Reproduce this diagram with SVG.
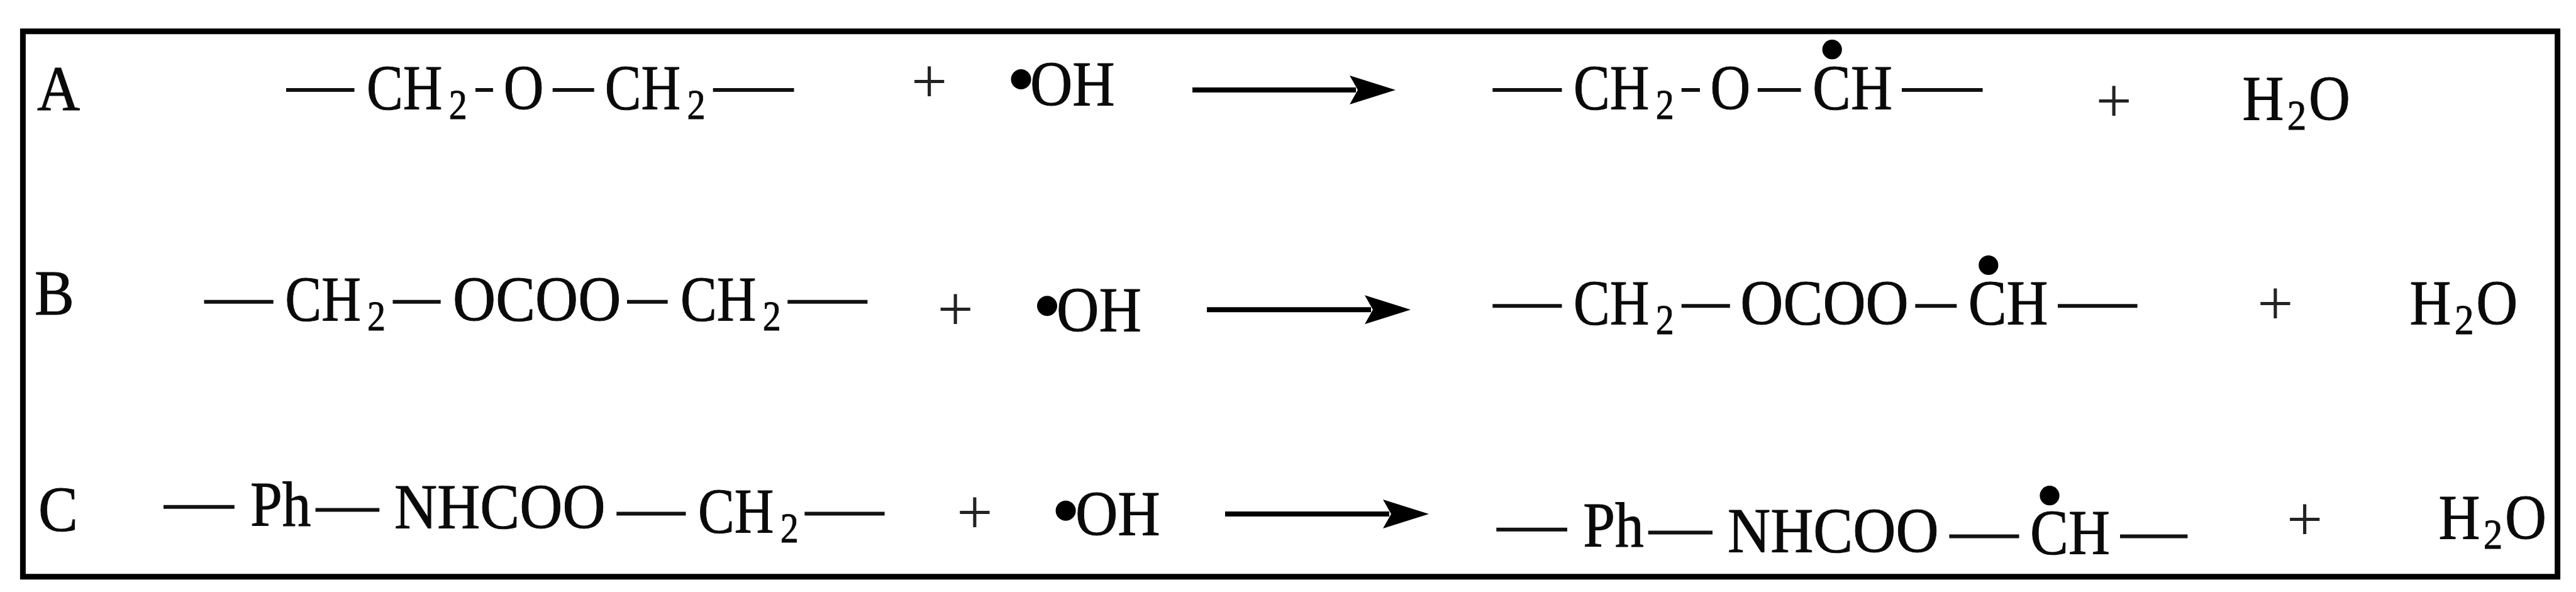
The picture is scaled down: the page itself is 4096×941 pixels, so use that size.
<svg xmlns="http://www.w3.org/2000/svg" width="4096" height="941" viewBox="0 0 4096 941">
<style>
text{font-family:"Liberation Serif","Times New Roman",serif;font-size:101.5px;fill:#0a0a0a;stroke:#0a0a0a;stroke-width:1}
.s{font-size:68px}
.p{text-anchor:middle;fill:#222;stroke:none}
.b{stroke:#111;stroke-width:6;fill:none}
.a{stroke:#000;stroke-width:8;fill:none;marker-end:url(#h)}
circle{fill:#000}
</style>
<defs><marker id="h" markerUnits="userSpaceOnUse" markerWidth="74" markerHeight="48" refX="10" refY="24" orient="auto"><path d="M0 1 L73 24 L0 47 L13 24Z" fill="#000"/></marker></defs>
<rect width="4096" height="941" fill="#fff"/>
<rect id="frame" x="36.400" y="49.800" width="4030.200" height="866.900" fill="none" stroke="#000" stroke-width="9"/>
<g id="connectors">
<path class="b" d="M455 142.900H563.500M756 142.900H784M878.700 142.900H944.700M1133.700 142.900H1262.500M2373.300 142.900H2483.500M2673.700 142.900H2703M2794.800 142.900H2863.600M3024 142.900H3152.600"/>
<path class="b" d="M324.500 479.700H434.700M624.500 479.700H700.700M997 479.700H1061.700M1252.300 479.700H1379.400M2373.300 486.300H2483.500M2673.700 486.300H2750.800M3045.300 486.300H3111.300M3272 486.300H3398.600"/>
<path class="b" d="M260 805.700H372.800M501.600 810.500H603.300M980.300 816.500H1090.500M1279.400 816.500H1406.600M2379.300 841.700H2492M2620.700 846.600H2723M3099.400 852.600H3210.500M3371 852.600H3478.400"/>
<line class="a" x1="1896" y1="142.900" x2="2156" y2="142.900"/>
<line class="a" x1="1919" y1="492.300" x2="2180" y2="492.300"/>
<line class="a" x1="1948" y1="817" x2="2209" y2="817"/>
</g>
<g id="row-a">
<text id="label-a" transform="translate(59 175.300) scale(.93 1)">A</text>
<g id="reactant-a">
<text transform="translate(583 174) scale(.855 1)">CH<tspan class="s" dx="12" dy="15">2</tspan></text>
<text transform="translate(800.700 174) scale(.87 1)">O</text>
<text transform="translate(961.700 174) scale(.855 1)">CH<tspan class="s" dx="12" dy="15">2</tspan></text>
</g>
<text id="plus-a1" class="p" x="1477.700" y="163">+</text>
<g id="radical-a"><circle cx="1623.500" cy="126" r="16"/><text transform="translate(1637.900 168) scale(.92 1)">OH</text></g>
<g id="product-a">
<text transform="translate(2502 174) scale(.855 1)">CH<tspan class="s" dx="12" dy="15">2</tspan></text>
<text transform="translate(2719.600 174) scale(.87 1)">O</text>
<circle cx="2913.200" cy="78.700" r="15.600"/>
<text transform="translate(2882 174) scale(.9 1)">CH</text>
</g>
<text id="plus-a2" class="p" x="3361" y="194">+</text>
<text id="water-a" transform="translate(3565.500 191) scale(.9 1)">H<tspan class="s" dx="6" dy="15">2</tspan><tspan dx="4" dy="-15">O</tspan></text>
</g>
<g id="row-b">
<text id="label-b" transform="translate(55 499.500) scale(.93 1)">B</text>
<g id="reactant-b">
<text transform="translate(453.300 510) scale(.855 1)">CH<tspan class="s" dx="12" dy="15">2</tspan></text>
<text transform="translate(720 510) scale(.93 1)">OCOO</text>
<text transform="translate(1082 510) scale(.855 1)">CH<tspan class="s" dx="12" dy="15">2</tspan></text>
</g>
<text id="plus-b1" class="p" x="1519.200" y="525">+</text>
<g id="radical-b"><circle cx="1665" cy="486.300" r="16"/><text transform="translate(1680 527) scale(.92 1)">OH</text></g>
<g id="product-b">
<text transform="translate(2502 516.300) scale(.855 1)">CH<tspan class="s" dx="12" dy="15">2</tspan></text>
<text transform="translate(2767.300 516.300) scale(.93 1)">OCOO</text>
<circle cx="3161.800" cy="421.500" r="15.600"/>
<text transform="translate(3129.700 516.300) scale(.9 1)">CH</text>
</g>
<text id="plus-b2" class="p" x="3617.800" y="516">+</text>
<text id="water-b" transform="translate(3831.600 516.300) scale(.9 1)">H<tspan class="s" dx="6" dy="15">2</tspan><tspan dx="4" dy="-15">O</tspan></text>
</g>
<g id="row-c">
<text id="label-c" transform="translate(61 843.500) scale(.93 1)">C</text>
<g id="reactant-c">
<text transform="translate(398 835.700) scale(.9 1)">Ph</text>
<text transform="translate(627 840) scale(.93 1)">NHCOO</text>
<text transform="translate(1110 846.600) scale(.855 1)">CH<tspan class="s" dx="12" dy="15">2</tspan></text>
</g>
<text id="plus-c1" class="p" x="1549.800" y="848">+</text>
<g id="radical-c"><circle cx="1694.600" cy="811.700" r="16"/><text transform="translate(1709.900 851.400) scale(.92 1)">OH</text></g>
<g id="product-c">
<text transform="translate(2517.300 868.800) scale(.9 1)">Ph</text>
<text transform="translate(2747 877.800) scale(.93 1)">NHCOO</text>
<circle cx="3259" cy="787.700" r="15.600"/>
<text transform="translate(3228 881.400) scale(.9 1)">CH</text>
</g>
<text id="plus-c2" class="p" x="3664.600" y="859">+</text>
<text id="water-c" transform="translate(3877.500 857.400) scale(.9 1)">H<tspan class="s" dx="6" dy="15">2</tspan><tspan dx="4" dy="-15">O</tspan></text>
</g>
</svg>
